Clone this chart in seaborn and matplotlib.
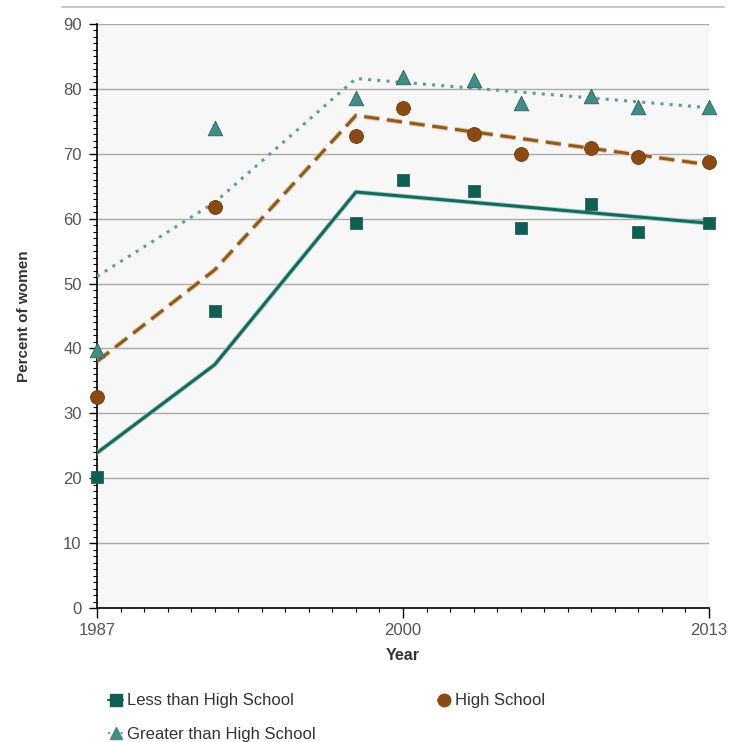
import numpy as np
import pandas as pd
import seaborn as sns
import matplotlib.pyplot as plt
import matplotlib.patheffects as pe
from matplotlib.lines import Line2D
from matplotlib.ticker import MultipleLocator

# observed survey points
years = [1987, 1992, 1998, 2000, 2003, 2005, 2008, 2010, 2013]
less_hs = [20.2, 45.8, 59.3, 66.0, 64.3, 58.6, 62.2, 58.0, 59.3]
high_school = [32.5, 61.8, 72.7, 77.0, 73.1, 69.9, 70.9, 69.5, 68.8]
greater_hs = [39.7, 73.9, 78.6, 81.9, 81.4, 77.8, 78.9, 77.2, 77.2]

# fitted trend lines (knots)
fit_years = [1987, 1992, 1998, 2013]
fit_less_hs = [23.9, 37.5, 64.1, 59.3]
fit_high_school = [38.0, 52.1, 75.9, 68.3]
fit_greater_hs = [51.1, 62.5, 81.6, 77.1]

groups = ["Less than High School", "High School", "Greater than High School"]
colors = {"Less than High School": "#0f5f57",
          "High School": "#8a4a12",
          "Greater than High School": "#3f8d86"}
line_colors = {"Less than High School": "#17695f",
               "High School": "#8b5a26",
               "Greater than High School": "#5c9f98"}
markers = {"Less than High School": "s",
           "High School": "o",
           "Greater than High School": "^"}

points = pd.DataFrame({
    "year": years * 3,
    "pct": less_hs + high_school + greater_hs,
    "group": np.repeat(groups, len(years)),
})
fits = pd.DataFrame({
    "year": fit_years * 3,
    "pct": fit_less_hs + fit_high_school + fit_greater_hs,
    "group": np.repeat(groups, len(fit_years)),
})

sns.set_style("white")
plt.rcParams["font.family"] = ["Liberation Sans", "DejaVu Sans"]

fig = plt.figure(figsize=(7.31, 7.42), dpi=100)
ax = fig.add_axes([97 / 731, 1 - 608 / 742, 612 / 731, 584 / 742])
ax.set_facecolor("#f7f7f7")

styles = {"Less than High School": "-",
          "High School": (0, (5, 2.5)),
          "Greater than High School": (0, (1, 2))}
for g in groups:
    d = fits[fits["group"] == g]
    sns.lineplot(data=d, x="year", y="pct", ax=ax, color=line_colors[g],
                 linewidth=2.2, linestyle=styles[g], zorder=3, legend=False,
                 estimator=None)
    if g == "High School":
        ax.lines[-1].set_path_effects([pe.Stroke(linewidth=3.6, foreground="#e9c48f"),
                                       pe.Normal()])
    if g == "Less than High School":
        ax.lines[-1].set_path_effects([pe.Stroke(linewidth=3.4, foreground="#9fcfc6"),
                                       pe.Normal()])

sizes = {"Less than High School": 80, "High School": 100,
         "Greater than High School": 110}
for g in groups:
    d = points[points["group"] == g]
    sns.scatterplot(data=d, x="year", y="pct", ax=ax, color=colors[g],
                    marker=markers[g], s=sizes[g],
                    edgecolor="#2f5f5a" if g != "High School" else "#6e3a0c",
                    linewidth=0.6, zorder=4, legend=False, clip_on=False)

ax.set_xlim(1987, 2013)
ax.set_ylim(0, 90)
ax.set_xticks([1987, 2000, 2013])
ax.xaxis.set_minor_locator(MultipleLocator(1))
ax.yaxis.set_major_locator(MultipleLocator(10))
ax.yaxis.set_minor_locator(MultipleLocator(1))
ax.grid(axis="y", color="#aaaaaa", linewidth=1.0, zorder=1)
ax.set_axisbelow(True)
ax.yaxis.get_gridlines()[-1].set_visible(False)

ax.tick_params(axis="y", which="major", length=6, width=1, color="black",
               labelsize=12, labelcolor="#555555", left=True, pad=5)
ax.tick_params(axis="y", which="minor", length=3, width=0.8, color="black", left=True)
ax.tick_params(axis="x", which="major", length=7, width=1, color="black",
               labelsize=12, labelcolor="#555555", bottom=True, pad=4)
ax.tick_params(axis="x", which="minor", length=3, width=0.8, color="black", bottom=True)

for side in ["top", "right"]:
    ax.spines[side].set_visible(False)
for side in ["left", "bottom"]:
    ax.spines[side].set_color("black")
    ax.spines[side].set_linewidth(1.2)

ax.set_xlabel("Year", fontsize=11.5, fontweight="bold", color="#333333", labelpad=7)
ax.set_ylabel("Percent of women", fontsize=11, fontweight="bold", color="#333333",
              labelpad=23)

fig.add_artist(Line2D([62 / 731, 724 / 731], [1 - 7 / 742, 1 - 7 / 742],
                      color="#c8c8c8", linewidth=1.5))

# column-major legend: Less / Greater in column 1, High School in column 2
leg_order = ["Less than High School", "Greater than High School", "High School"]
handles = [Line2D([], [], color=line_colors[g], marker=markers[g], markersize=9,
                  markerfacecolor=colors[g], markeredgecolor=colors[g],
                  linestyle=styles[g], linewidth=1.5)
           for g in leg_order]
leg = fig.legend(handles, leg_order, loc="upper left", ncol=2,
                 bbox_to_anchor=(100 / 731, 1 - 685 / 742), frameon=False,
                 fontsize=12, handlelength=0.9, handletextpad=0.2,
                 columnspacing=7.3, labelspacing=1.1, borderpad=0)
for t in leg.get_texts():
    t.set_color("#333333")

fig.savefig("out.png", dpi=100)
